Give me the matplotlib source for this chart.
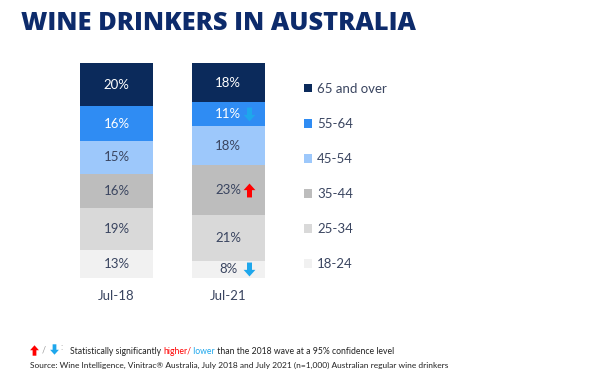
import numpy as np
import matplotlib
matplotlib.use("Agg")
import matplotlib.pyplot as plt
from matplotlib.path import Path
from matplotlib.patches import Patch

# data
waves = ["Jul-18", "Jul-21"]
ages = ["18-24", "25-34", "35-44", "45-54", "55-64", "65 and over"]
jul18 = [13, 19, 16, 15, 16, 20]
jul21 = [8, 21, 23, 18, 11, 18]
# significance vs 2018: +1 higher, -1 lower, 0 none (Jul-21 only)
sig21 = [-1, 0, 1, 0, -1, 0]

colors = ["#f1f1f1", "#d9d9d9", "#bdbdbd", "#9dc8fb", "#2f8cf3", "#0b2a5b"]
txt_colors = ["#3a4560", "#3a4560", "#3a4560", "#3a4560", "white", "white"]
NAVY = "#0d2b6b"
TXT = "#3a4560"
RED = "#ff0000"
BLUE = "#1ea7ec"
FONT = ["Lato", "DejaVu Sans"]

W, H = 613, 376
fig = plt.figure(figsize=(W / 100, H / 100), dpi=100)
fig.patch.set_facecolor("white")

# bars axes: unit x = 111.5 px, 1% = 2.172 px
px_unit = 111.5
left = 116.5 - 0.5 * px_unit
ax = fig.add_axes([left / W, 98 / H, 2 * px_unit / W, 217.2 / H])
ax.set_xlim(-0.5, 1.5)
ax.set_ylim(0, 100)
ax.axis("off")

# block arrow shapes
up = Path([(-0.36, 0.05), (0.36, 0.05), (0.36, -1), (-0.36, -1), (-0.36, 0.05),
           (-0.85, 0.05), (0, 1), (0.85, 0.05), (-0.36, 0.05)], closed=True)
down = Path([(x, -y) for x, y in up.vertices], closed=True)

bw = 73 / px_unit
for i, vals in enumerate([jul18, jul21]):
    bottoms = np.concatenate([[0], np.cumsum(vals)[:-1]])
    ax.bar(i, vals, bottom=bottoms, width=bw, color=colors, edgecolor="none")
    for j, (v, b) in enumerate(zip(vals, bottoms)):
        ax.text(i, b + v / 2, f"{v}%", ha="center", va="center",
                color=txt_colors[j], fontsize=9.5, family=FONT)
        if i == 1 and sig21[j] != 0:
            ax.plot(i + 0.19, b + v / 2, marker=up if sig21[j] > 0 else down,
                    markersize=10, color=RED if sig21[j] > 0 else BLUE,
                    markeredgewidth=0, linestyle="none")
    ax.text(i, -8.5, waves[i], ha="center", va="center", color=TXT,
            fontsize=9.5, family=FONT)

# legend
handles = [Patch(facecolor=c, edgecolor="none", label=a)
           for a, c in zip(ages, colors)][::-1]
leg = fig.legend(handles=handles, loc="upper left",
                 bbox_to_anchor=(292 / W, 1 - 71 / H), frameon=False,
                 handlelength=0.6, handleheight=0.6, handletextpad=0.4,
                 labelspacing=1.75, prop={"family": FONT, "size": 9.5})
for t in leg.get_texts():
    t.set_color(TXT)

# overlay for text in pixel units
ov = fig.add_axes([0, 0, 1, 1])
ov.set_xlim(0, W)
ov.set_ylim(H, 0)
ov.axis("off")

ov.text(21, 23, "WINE DRINKERS IN AUSTRALIA", ha="left", va="center",
        color=NAVY, fontsize=18.3, fontweight="heavy",
        family=["Open Sans", "DejaVu Sans"])

# footnote
ov.plot(34, 350, marker=up, markersize=7.5, color=RED, markeredgewidth=0)
ov.text(42, 350, "/", ha="left", va="center", color="#999999", fontsize=6.5,
        family=FONT)
ov.plot(54, 349, marker=down, markersize=7.5, color=BLUE, markeredgewidth=0)
ov.text(60, 348, ":", ha="left", va="center", color="#999999", fontsize=6.5,
        family=FONT)

fig.canvas.draw()
r = fig.canvas.get_renderer()
x = 70
parts = [("Statistically significantly ", "#222222"), ("higher/", RED),
         (" lower", BLUE),
         (" than the 2018 wave at a 95% confidence level", "#222222")]
for s, c in parts:
    t = ov.text(x, 351, s, ha="left", va="center", color=c, fontsize=6.2,
                family=FONT)
    bb = t.get_window_extent(renderer=r)
    x += bb.width
ov.text(30, 365, "Source: Wine Intelligence, Vinitrac\u00ae Australia, July 2018 and July 2021 "
        "(n=1,000) Australian regular wine drinkers", ha="left", va="center",
        color="#222222", fontsize=6, family=FONT)

fig.savefig("out.png", dpi=100, facecolor="white")
